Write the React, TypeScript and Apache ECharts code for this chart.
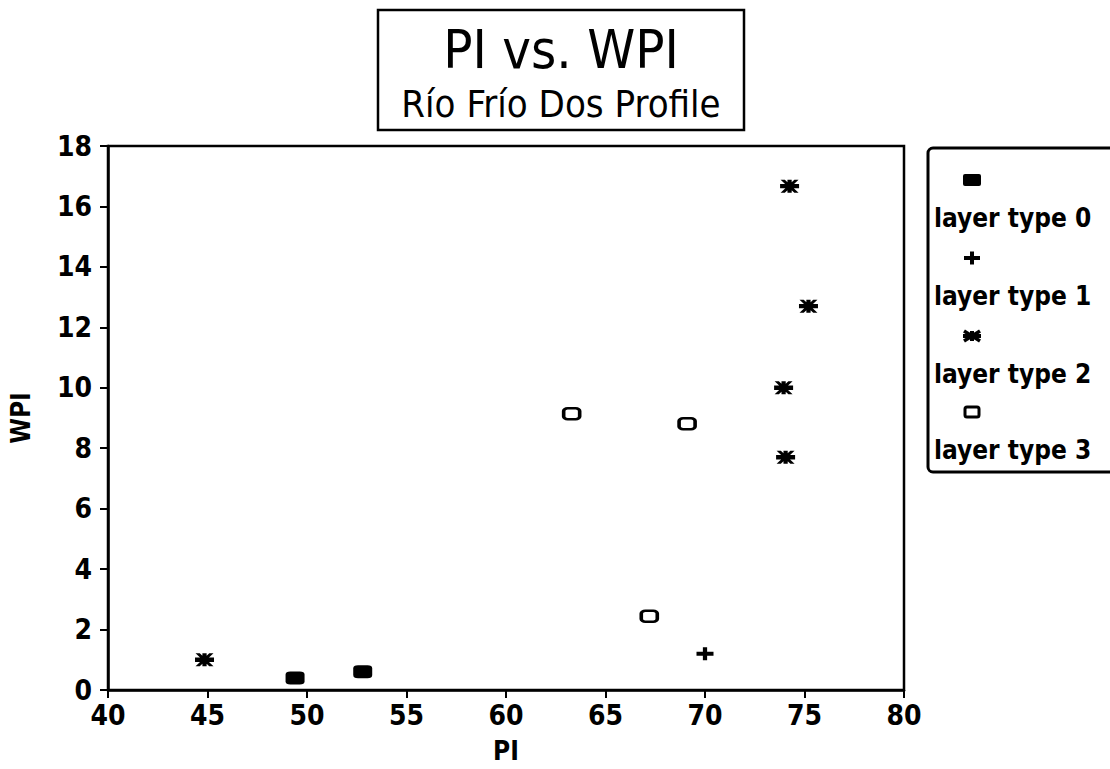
import React, { useEffect, useRef } from "react";
import * as echarts from "echarts";

const xTicks = [40, 45, 50, 55, 60, 65, 70, 75, 80];
const yTicks = [0, 2, 4, 6, 8, 10, 12, 14, 16, 18];
const seriesNames = ["layer type 0", "layer type 1", "layer type 2", "layer type 3"];
const type0: number[][] = [[49.4, 0.4], [52.8, 0.6]];
const type1: number[][] = [[70.0, 1.2]];
const type2: number[][] = [[44.85, 1.0], [74.25, 16.67], [75.2, 12.7], [73.95, 10.0], [74.05, 7.7]];
const type3: number[][] = [[63.3, 9.14], [69.1, 8.81], [67.2, 2.44]];

const PLUS = "path://M6,0 H10 V4.5 H16 V8.5 H10 V13 H6 V8.5 H0 V4.5 H6 Z";
const STAR = "path://M0,4 H18 V8 H0 Z M0.5,0 L4.5,0 L17.5,12 L13.5,12 Z M13.5,0 L17.5,0 L4.5,12 L0.5,12 Z M7,0 H11 V12 H7 Z";

const FONT = "'DejaVu Sans Condensed', 'DejaVu Sans', sans-serif";

export default function App() {
  const ref = useRef<HTMLDivElement>(null);
  useEffect(() => {
    if (!ref.current) return;
    const chart = echarts.init(ref.current, null, { renderer: "svg" });
    const legendX = 972;
    const legendRows = [180, 258, 336, 412];
    const legendSymbols: any[] = [
      { type: "rect", shape: { x: legendX - 9, y: legendRows[0] - 6, width: 18, height: 12, r: 2 }, style: { fill: "#000" } },
      { type: "rect", shape: { x: legendX - 8, y: legendRows[1] - 2, width: 16, height: 4 }, style: { fill: "#000" } },
      { type: "rect", shape: { x: legendX - 2, y: legendRows[1] - 6.5, width: 4, height: 13 }, style: { fill: "#000" } },
      { type: "line", shape: { x1: legendX - 9, y1: legendRows[2], x2: legendX + 9, y2: legendRows[2] }, style: { stroke: "#000", lineWidth: 4 } },
      { type: "line", shape: { x1: legendX - 8, y1: legendRows[2] - 5, x2: legendX + 8, y2: legendRows[2] + 5 }, style: { stroke: "#000", lineWidth: 3.5 } },
      { type: "line", shape: { x1: legendX - 8, y1: legendRows[2] + 5, x2: legendX + 8, y2: legendRows[2] - 5 }, style: { stroke: "#000", lineWidth: 3.5 } },
      { type: "line", shape: { x1: legendX, y1: legendRows[2] - 5, x2: legendX, y2: legendRows[2] + 5 }, style: { stroke: "#000", lineWidth: 4 } },
      { type: "rect", shape: { x: legendX - 7, y: legendRows[3] - 5, width: 14, height: 10, r: 2 }, style: { fill: "#fff", stroke: "#000", lineWidth: 3 } },
    ];
    const legendTexts = seriesNames.map((n, i) => ({
      type: "text",
      x: 934,
      y: legendRows[i] + 38,
      style: { text: n, font: `bold 26px ${FONT}`, fill: "#000", textVerticalAlign: "middle", textAlign: "left" },
    }));
    chart.setOption({
      animation: false,
      backgroundColor: "#fff",
      grid: { left: 107, right: 206, top: 146, bottom: 78, show: true, borderColor: "#000", borderWidth: 2.5, backgroundColor: "transparent" },
      xAxis: {
        type: "value",
        min: xTicks[0],
        max: xTicks[xTicks.length - 1],
        interval: 5,
        name: "PI",
        nameLocation: "middle",
        nameGap: 48,
        nameTextStyle: { fontFamily: FONT, fontSize: 26, fontWeight: "bold", color: "#000" },
        axisLine: { lineStyle: { color: "#000", width: 2.5 } },
        axisTick: { inside: false, length: 8, lineStyle: { color: "#000", width: 2 } },
        axisLabel: { margin: 11, fontFamily: FONT, fontSize: 28, fontWeight: "bold", color: "#000" },
        splitLine: { show: false },
      },
      yAxis: {
        type: "value",
        min: yTicks[0],
        max: yTicks[yTicks.length - 1],
        interval: 2,
        name: "WPI",
        nameLocation: "middle",
        nameGap: 74,
        nameTextStyle: { fontFamily: FONT, fontSize: 26, fontWeight: "bold", color: "#000" },
        axisLine: { lineStyle: { color: "#000", width: 2.5 } },
        axisTick: { inside: false, length: 8, lineStyle: { color: "#000", width: 2 } },
        axisLabel: { margin: 16, fontFamily: FONT, fontSize: 28, fontWeight: "bold", color: "#000" },
        splitLine: { show: false },
      },
      series: [
        { name: seriesNames[0], type: "scatter", data: type0, symbol: "roundRect", symbolSize: [19, 13], itemStyle: { color: "#000", opacity: 1 } },
        { name: seriesNames[1], type: "scatter", data: type1, symbol: PLUS, symbolSize: [17, 13], itemStyle: { color: "#000", opacity: 1 } },
        { name: seriesNames[2], type: "scatter", data: type2, symbol: STAR, symbolSize: [19, 13], itemStyle: { color: "#000", opacity: 1 } },
        { name: seriesNames[3], type: "scatter", data: type3, symbol: "roundRect", symbolSize: [16, 11], itemStyle: { color: "#fff", borderColor: "#000", borderWidth: 3, opacity: 1 } },
      ],
      graphic: [
        { type: "rect", shape: { x: 378, y: 10, width: 366, height: 120 }, style: { fill: "#fff", stroke: "#000", lineWidth: 2.5 } },
        { type: "text", x: 561, y: 49, style: { text: "PI vs. WPI", font: `54px ${FONT}`, fill: "#000", textAlign: "center", textVerticalAlign: "middle" } },
        { type: "text", x: 561, y: 104, style: { text: "Río Frío Dos Profile", font: `38px ${FONT}`, fill: "#000", textAlign: "center", textVerticalAlign: "middle" } },
        { type: "rect", shape: { x: 928, y: 148, width: 200, height: 324, r: 5 }, style: { fill: "#fff", stroke: "#000", lineWidth: 3 } },
        ...legendSymbols,
        ...legendTexts,
      ],
    });
    return () => chart.dispose();
  }, []);
  return <div ref={ref} style={{ position: "absolute", left: 0, top: 0, width: 1110, height: 769 }} />;
}
